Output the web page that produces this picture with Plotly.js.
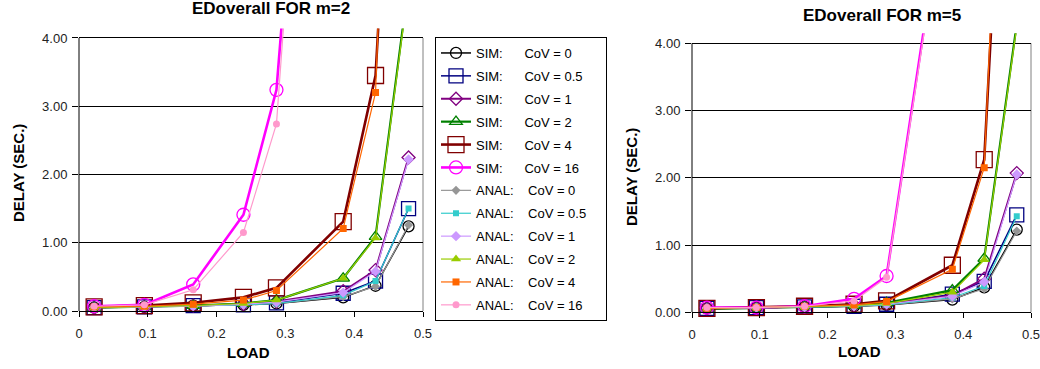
<!DOCTYPE html>
<html>
<head>
<meta charset="utf-8">
<script src="https://cdn.plot.ly/plotly-3.0.1.min.js"></script>
<style>
  html, body { margin: 0; padding: 0; background: #ffffff; }
  #chart { width: 1040px; height: 369px; }
</style>
</head>
<body>
<div id="chart"></div>
<script>
// Offered load at each measurement point (shared by both panels)
const loads = [0.022, 0.095, 0.166, 0.239, 0.287, 0.384, 0.431, 0.479];
const covLabels = ['0', '0.5', '1', '2', '4', '16'];

// Axis ticks
const xTickVals = [0, 0.1, 0.2, 0.3, 0.4, 0.5];
const xTickText = ['0', '0.1', '0.2', '0.3', '0.4', '0.5'];
const yTickVals = [0, 1, 2, 3, 4];
const yTickText = ['0.00', '1.00', '2.00', '3.00', '4.00'];

// Mean end-to-end delay (sec), m = 2 — simulation
const m2Sim0   = [0.05, 0.06, 0.08, 0.09, 0.11, 0.20, 0.37, 1.24];
const m2Sim05  = [0.05, 0.06, 0.08, 0.09, 0.12, 0.26, 0.44, 1.50];
const m2Sim1   = [0.05, 0.06, 0.08, 0.10, 0.14, 0.29, 0.60, 2.25];
const m2Sim2   = [0.05, 0.06, 0.08, 0.11, 0.16, 0.48, 1.09, 4.80];
const m2Sim4   = [0.06, 0.08, 0.12, 0.20, 0.34, 1.31, 3.45, 12.0];
const m2Sim16  = [0.07, 0.09, 0.39, 1.41, 3.24, 15.4];
// m = 2 — analytical model
const m2Anal0  = [0.05, 0.06, 0.07, 0.09, 0.11, 0.21, 0.36, 1.26];
const m2Anal05 = [0.05, 0.06, 0.07, 0.09, 0.11, 0.23, 0.44, 1.50];
const m2Anal1  = [0.05, 0.06, 0.07, 0.10, 0.13, 0.27, 0.58, 2.22];
const m2Anal2  = [0.05, 0.06, 0.08, 0.11, 0.16, 0.48, 1.07, 4.75];
const m2Anal4  = [0.06, 0.07, 0.10, 0.16, 0.30, 1.21, 3.20, 16.0];
const m2Anal16 = [0.07, 0.09, 0.31, 1.15, 2.74, 16.2];

// Mean end-to-end delay (sec), m = 5 — simulation
const m5Sim0   = [0.06, 0.07, 0.08, 0.09, 0.11, 0.19, 0.37, 1.23];
const m5Sim05  = [0.06, 0.07, 0.08, 0.09, 0.12, 0.27, 0.46, 1.45];
const m5Sim1   = [0.06, 0.07, 0.08, 0.10, 0.13, 0.25, 0.50, 2.07];
const m5Sim2   = [0.05, 0.06, 0.08, 0.10, 0.14, 0.33, 0.80, 4.29];
const m5Sim4   = [0.06, 0.07, 0.09, 0.12, 0.17, 0.70, 2.27, 11.4];
const m5Sim16  = [0.07, 0.07, 0.09, 0.20, 0.54, 7.0];
// m = 5 — analytical model
const m5Anal0  = [0.06, 0.07, 0.08, 0.09, 0.11, 0.20, 0.35, 1.21];
const m5Anal05 = [0.06, 0.07, 0.08, 0.09, 0.11, 0.22, 0.39, 1.43];
const m5Anal1  = [0.06, 0.07, 0.08, 0.10, 0.12, 0.24, 0.45, 2.05];
const m5Anal2  = [0.06, 0.07, 0.08, 0.10, 0.13, 0.30, 0.78, 4.25];
const m5Anal4  = [0.06, 0.07, 0.09, 0.11, 0.16, 0.64, 2.15, 13.2];
const m5Anal16 = [0.07, 0.07, 0.09, 0.17, 0.52, 6.9];

const m2Sim  = [m2Sim0, m2Sim05, m2Sim1, m2Sim2, m2Sim4, m2Sim16];
const m2Anal = [m2Anal0, m2Anal05, m2Anal1, m2Anal2, m2Anal4, m2Anal16];
const m5Sim  = [m5Sim0, m5Sim05, m5Sim1, m5Sim2, m5Sim4, m5Sim16];
const m5Anal = [m5Anal0, m5Anal05, m5Anal1, m5Anal2, m5Anal4, m5Anal16];

// Series styling: simulation = open markers, heavier lines; analysis = filled markers, thin lines
const simStyle = [
  { color: '#000000', symbol: 'circle-open',      size: 11, width: 1.5 },
  { color: '#000080', symbol: 'square-open',      size: 14, width: 1.5 },
  { color: '#800080', symbol: 'diamond-open',     size: 10, width: 2 },
  { color: '#008000', symbol: 'triangle-up-open', size: 11, width: 2.2 },
  { color: '#800000', symbol: 'square-open',      size: 16, width: 2.6 },
  { color: '#FF00FF', symbol: 'circle-open',      size: 13, width: 2.6 }
];
const analStyle = [
  { color: '#969696', symbol: 'diamond',     size: 7 },
  { color: '#33CCCC', symbol: 'square',      size: 6 },
  { color: '#CC99FF', symbol: 'diamond',     size: 8 },
  { color: '#99CC00', symbol: 'triangle-up', size: 9 },
  { color: '#FF6600', symbol: 'square',      size: 7 },
  { color: '#FF99CC', symbol: 'circle',      size: 7 }
];

const NB = '\u00a0';
const simName  = c => 'SIM:' + NB.repeat(6) + 'CoV = ' + c + NB.repeat(4);
const analName = c => 'ANAL:' + NB.repeat(4) + 'CoV = ' + c + NB.repeat(4);

const FONT = 'Liberation Sans, Arial, sans-serif';

function panelTraces(simSet, analSet, xa, ya, showLegend) {
  const out = [];
  simSet.forEach((ys, i) => {
    const s = simStyle[i];
    out.push({
      type: 'scatter', mode: 'lines+markers',
      x: loads.slice(0, ys.length), y: ys,
      xaxis: xa, yaxis: ya,
      name: simName(covLabels[i]),
      legendgroup: 'sim' + i, showlegend: showLegend,
      line: { color: s.color, width: s.width },
      marker: { symbol: s.symbol, size: s.size, color: s.color,
                line: { color: s.color, width: 1.3 } }
    });
  });
  analSet.forEach((ys, i) => {
    const s = analStyle[i];
    out.push({
      type: 'scatter', mode: 'lines+markers',
      x: loads.slice(0, ys.length), y: ys,
      xaxis: xa, yaxis: ya,
      name: analName(covLabels[i]),
      legendgroup: 'anal' + i, showlegend: showLegend,
      line: { color: s.color, width: 1.2 },
      marker: { symbol: s.symbol, size: s.size, color: s.color, line: { width: 0 } }
    });
  });
  return out;
}

const traces = [
  ...panelTraces(m2Sim, m2Anal, 'x', 'y', true),
  ...panelTraces(m5Sim, m5Anal, 'x2', 'y2', false)
];

const W = 1040, H = 369;
const px = v => v / W;
const py = v => (H - v) / H;

function xAxis(domain, yPos) {
  return {
    domain: domain, range: [0, 0.5], anchor: 'free', position: yPos,
    tickmode: 'array', tickvals: xTickVals, ticktext: xTickText,
    ticks: 'outside', ticklen: 5, tickcolor: '#000', tickwidth: 1,
    showline: true, linecolor: '#000', linewidth: 1,
    showgrid: false, zeroline: false,
    ticklabelstandoff: 5, ticklabeloverflow: 'allow',
    tickfont: { family: FONT, size: 13, color: '#222' }
  };
}
function yAxis(domain, range, anchor) {
  return {
    domain: domain, range: range, anchor: anchor,
    tickmode: 'array', tickvals: yTickVals, ticktext: yTickText,
    ticks: 'outside', ticklen: 6, tickcolor: '#000', tickwidth: 1,
    showline: false, showgrid: true, gridcolor: '#000', gridwidth: 1,
    zeroline: false, ticklabelstandoff: 2, ticklabeloverflow: 'allow',
    tickfont: { family: FONT, size: 13, color: '#222' }
  };
}

// Plot frame pieces: left axis and right edge span 0..4 only
function frame(xr, yr) {
  return [
    { type: 'line', xref: xr + ' domain', yref: yr, x0: 0, x1: 0, y0: 0, y1: 4,
      line: { color: '#000', width: 1 }, layer: 'above' },
    { type: 'line', xref: xr + ' domain', yref: yr, x0: 1, x1: 1, y0: 0, y1: 4,
      line: { color: '#808080', width: 1 }, layer: 'below' }
  ];
}

const layout = {
  width: W, height: H,
  margin: { l: 0, r: 0, t: 0, b: 0 },
  paper_bgcolor: '#ffffff', plot_bgcolor: 'rgba(0,0,0,0)',
  showlegend: true,
  font: { family: FONT, color: '#000' },
  xaxis: xAxis([px(79), px(423)], py(311)),
  yaxis: yAxis([py(316), py(28.4)], [-0.073, 4.14], 'x'),
  xaxis2: xAxis([px(692), px(1031)], py(312.3)),
  yaxis2: yAxis([py(317.3), py(33.2)], [-0.074, 4.15], 'x2'),
  legend: {
    x: px(435), y: py(37), xanchor: 'left', yanchor: 'top',
    bgcolor: '#ffffff', bordercolor: '#000', borderwidth: 1,
    font: { family: FONT, size: 13, color: '#000' },
    tracegroupgap: 3, itemsizing: 'trace', itemwidth: 30
  },
  shapes: [...frame('x', 'y'), ...frame('x2', 'y2')],
  annotations: [
    { text: '<b>EDoverall FOR m=2</b>', xref: 'paper', yref: 'paper',
      x: px(271), y: py(8), xanchor: 'center', yanchor: 'middle', showarrow: false,
      font: { family: FONT, size: 17, color: '#000' } },
    { text: '<b>EDoverall FOR m=5</b>', xref: 'paper', yref: 'paper',
      x: px(882), y: py(15), xanchor: 'center', yanchor: 'middle', showarrow: false,
      font: { family: FONT, size: 17, color: '#000' } },
    { text: '<b>DELAY (SEC.)</b>', xref: 'paper', yref: 'paper', textangle: -90,
      x: px(18), y: py(173), xanchor: 'center', yanchor: 'middle', showarrow: false,
      font: { family: FONT, size: 15, color: '#000' } },
    { text: '<b>DELAY (SEC.)</b>', xref: 'paper', yref: 'paper', textangle: -90,
      x: px(632), y: py(177), xanchor: 'center', yanchor: 'middle', showarrow: false,
      font: { family: FONT, size: 15, color: '#000' } },
    { text: '<b>LOAD</b>', xref: 'paper', yref: 'paper',
      x: px(248), y: py(352), xanchor: 'center', yanchor: 'middle', showarrow: false,
      font: { family: FONT, size: 15, color: '#000' } },
    { text: '<b>LOAD</b>', xref: 'paper', yref: 'paper',
      x: px(859), y: py(351), xanchor: 'center', yanchor: 'middle', showarrow: false,
      font: { family: FONT, size: 15, color: '#000' } }
  ]
};

Plotly.newPlot('chart', traces, layout, { displayModeBar: false, staticPlot: true });
</script>
</body>
</html>
